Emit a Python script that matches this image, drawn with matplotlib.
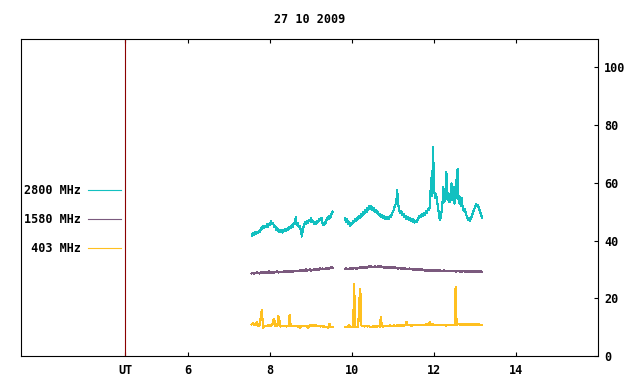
import numpy as np
import matplotlib.pyplot as plt

# ---------------- DATA ---------------- #
title = "27 10 2009"
step = 0.025          # hours between samples
start_1 = 7.55        # first block of records (UT hours)
start_2 = 9.825       # second block after the gap

x_ticks = [4.47, 6, 8, 10, 12, 14]
x_labels = ["UT", "6", "8", "10", "12", "14"]
y_ticks = [0, 20, 40, 60, 80, 100]
ut_pos = 4.47

labels = ["2800 MHz", "1580 MHz", " 403 MHz"]
colors = ["#12c0c0", "#7b5a7e", "#ffc020"]

mhz2800_a = [41.6, 42.6, 41.9, 42.9, 42.2, 43.0, 42.5, 43.4, 43.0, 44.2,
             44.0, 45.2, 44.3, 45.0, 44.6, 45.6, 44.8, 45.9, 45.4, 46.6,
             45.6, 45.9, 44.7, 44.9, 43.6, 44.2, 43.1, 43.8, 42.9, 43.6,
             42.8, 43.7, 43.2, 44.0, 43.4, 44.3, 43.8, 44.8, 44.2, 45.2,
             44.8, 46.0, 45.6, 48.0, 45.5, 46.2, 44.6, 45.1, 43.4, 41.4,
             44.0, 45.2, 46.3, 45.6, 46.8, 46.1, 47.2, 46.6, 47.8, 46.4,
             46.9, 45.6, 46.4, 45.8, 46.9, 46.3, 47.6, 47.0, 47.9, 46.2,
             45.4, 46.3, 45.8, 47.2, 48.1, 47.4, 48.6, 48.0, 49.3, 50.0]
mhz2800_b = [47.8, 46.5, 47.6, 45.8, 46.4, 44.9, 46.2, 45.6, 46.8, 46.3,
             47.5, 46.9, 48.0, 47.4, 48.5, 47.9, 49.1, 48.6, 49.8, 49.2,
             50.6, 49.9, 51.4, 50.7, 52.0, 51.0, 51.8, 50.5, 51.2, 49.8,
             50.6, 49.4, 50.1, 48.7, 49.3, 48.1, 48.8, 47.9, 48.5, 47.6,
             48.3, 47.4, 48.1, 47.5, 48.6, 48.2, 49.6, 49.8, 51.4, 52.2,
             53.0, 57.5, 52.4, 50.6, 49.4, 50.2, 48.8, 49.3, 48.1, 48.6,
             47.5, 48.2, 47.2, 47.8, 46.9, 47.5, 46.6, 47.3, 46.2, 46.9,
             46.3, 47.4, 47.9, 48.6, 48.2, 49.3, 48.6, 49.6, 49.0, 50.1,
             49.5, 51.0, 50.6, 52.0, 61.6, 55.5, 72.5, 58.0, 54.6, 56.2,
             53.5, 51.2, 48.0, 47.0, 49.5, 51.8, 58.7, 53.2, 55.0, 63.9,
             54.2, 56.5, 53.3, 55.8, 59.8, 53.9, 58.5, 52.8, 55.0, 61.6,
             64.7, 53.0, 55.2, 51.8, 54.8, 51.0, 50.2, 51.0, 49.2, 48.5,
             47.2, 47.8, 46.9, 47.6, 48.8, 49.6, 50.8, 51.5, 52.6, 51.8,
             52.4, 50.9, 49.8, 48.9, 47.8]

mhz1580_a = [28.6, 28.9, 28.5, 28.8, 28.6, 29.1, 28.7, 28.9, 28.6, 29.0,
             28.7, 29.2, 28.8, 29.0, 28.7, 29.1, 28.9, 29.3, 28.8, 29.1,
             28.9, 29.2, 28.9, 29.1, 29.0, 29.3, 28.9, 29.2, 29.0, 29.1,
             29.0, 29.3, 29.1, 29.4, 29.1, 29.3, 29.2, 29.5, 29.2, 29.4,
             29.2, 29.5, 29.3, 29.6, 29.3, 29.5, 29.4, 29.8, 29.4, 29.7,
             29.5, 29.8, 29.6, 30.0, 29.6, 29.9, 29.7, 30.1, 29.6, 29.9,
             29.7, 30.1, 29.8, 30.2, 29.8, 30.1, 29.9, 30.4, 30.0, 30.3,
             30.0, 30.3, 30.1, 30.5, 30.1, 30.4, 30.3, 30.7, 30.4, 30.6]
mhz1580_b = [30.1, 30.4, 30.0, 30.3, 30.1, 30.5, 30.2, 30.4, 30.2, 30.6,
             30.3, 30.5, 30.2, 30.6, 30.4, 30.7, 30.4, 30.8, 30.5, 30.7,
             30.5, 30.9, 30.6, 31.0, 30.7, 31.2, 30.8, 31.0, 30.7, 31.1,
             30.8, 31.0, 30.7, 31.3, 30.8, 31.1, 30.7, 30.9, 30.6, 30.9,
             30.6, 30.8, 30.5, 30.8, 30.5, 30.9, 30.5, 30.7, 30.4, 30.7,
             30.4, 30.6, 30.3, 30.6, 30.3, 30.5, 30.2, 30.5, 30.1, 30.4,
             30.1, 30.3, 30.0, 30.3, 30.0, 30.2, 29.9, 30.2, 29.9, 30.1,
             29.8, 30.1, 29.8, 30.0, 29.7, 30.0, 29.7, 29.9, 29.6, 29.9,
             29.6, 29.8, 29.5, 29.8, 29.5, 29.8, 29.5, 29.7, 29.4, 29.7,
             29.5, 29.7, 29.4, 29.7, 29.4, 29.6, 29.4, 29.7, 29.3, 29.6,
             29.4, 29.6, 29.3, 29.6, 29.3, 29.5, 29.3, 29.6, 29.2, 29.5,
             29.3, 29.5, 29.2, 29.5, 29.2, 29.5, 29.3, 29.4, 29.1, 29.4,
             29.2, 29.4, 29.1, 29.4, 29.2, 29.4, 29.1, 29.3, 29.0, 29.3,
             29.1, 29.4, 29.0, 29.3, 29.1]

mhz403_a = [11.0, 11.3, 10.9, 11.2, 10.8, 11.8, 10.6, 10.4, 10.7, 14.5,
            16.0, 9.6, 10.4, 10.3, 10.5, 10.3, 10.6, 10.4, 10.6, 10.5,
            10.7, 12.3, 12.7, 10.4, 10.5, 10.3, 13.9, 12.4, 10.2, 10.4,
            10.3, 10.5, 10.3, 10.4, 10.2, 10.4, 10.3, 14.2, 10.5, 10.3,
            10.4, 10.3, 10.5, 10.3, 10.4, 10.2, 10.4, 9.8, 10.3, 10.4,
            10.3, 10.5, 10.3, 10.4, 10.2, 9.8, 10.3, 10.6, 10.4, 10.6,
            10.5, 10.7, 10.4, 10.6, 10.5, 10.3, 10.4, 10.2, 10.4, 10.3,
            10.1, 10.3, 9.9, 10.1, 9.8, 10.0, 11.2, 10.1, 9.9, 10.0]
mhz403_b = [10.0, 10.1, 10.0, 10.2, 10.6, 10.1, 10.0, 10.1, 10.0, 25.0,
            10.1, 10.2, 10.0, 10.4, 19.0, 23.2, 10.6, 10.3, 10.5, 10.2,
            10.3, 10.4, 10.2, 10.3, 10.2, 10.1, 10.2, 10.1, 10.3, 10.2,
            10.3, 10.2, 10.4, 10.3, 10.2, 13.6, 10.3, 10.2, 10.4, 10.3,
            10.4, 10.3, 10.5, 10.4, 10.6, 10.4, 10.5, 10.4, 10.6, 10.5,
            10.4, 10.6, 10.5, 10.7, 10.5, 10.6, 10.4, 10.6, 10.5, 10.7,
            11.9, 10.6, 10.8, 10.6, 10.7, 10.5, 10.8, 10.6, 10.9, 10.7,
            10.6, 10.8, 10.7, 10.9, 10.7, 10.8, 10.6, 10.9, 10.8, 11.0,
            10.8, 11.1, 10.9, 11.8, 10.8, 11.0, 10.9, 10.7, 10.9, 10.8,
            10.7, 10.9, 10.8, 10.6, 10.8, 10.7, 10.9, 10.6, 10.8, 10.5,
            10.7, 10.6, 10.8, 10.6, 10.9, 10.7, 10.8, 10.6, 23.9, 10.8,
            10.9, 11.1, 10.8, 11.0, 10.9, 11.1, 10.8, 11.0, 10.9, 11.1,
            10.9, 11.0, 10.8, 11.1, 10.9, 11.0, 10.8, 11.0, 10.9, 11.1,
            10.9, 11.0, 10.8, 10.9, 10.8]


def join(a, b):
    # two recording blocks with a gap between them
    t = np.concatenate([start_1 + step * np.arange(len(a)), [np.nan],
                        start_2 + step * np.arange(len(b))])
    v = np.concatenate([a, [np.nan], b])
    return t, v


# ---------------- PLOT ---------------- #
plt.rcParams['font.family'] = 'DejaVu Sans Mono'
plt.rcParams['font.weight'] = 'bold'
plt.rcParams['font.size'] = 8.5

fig = plt.figure(figsize=(6.4, 3.84), dpi=100)
ax = fig.add_axes([21 / 640, 28 / 384, 577 / 640, 317.5 / 384])

ax.axvline(ut_pos, color="#8b0000", lw=0.8)

series = [(mhz2800_a, mhz2800_b), (mhz1580_a, mhz1580_b), (mhz403_a, mhz403_b)]
for (a, b), lab, col in zip(series, labels, colors):
    t, v = join(a, b)
    ax.plot(t, v, color=col, lw=0.8, label=lab, antialiased=False)

ax.set_xlim(1.92, 16)
ax.set_ylim(0, 110)

ax.set_xticks(x_ticks)
ax.set_xticklabels(x_labels)
ax.set_yticks(y_ticks)
ax.yaxis.tick_right()
ax.tick_params(axis='x', direction='in', top=True, bottom=True, length=3, pad=5.5)
ax.tick_params(axis='y', direction='in', left=False, right=True, length=3, pad=4.5)

for s in ax.spines.values():
    s.set_linewidth(0.8)
    s.set_color("black")

ax.set_title(title, pad=11, fontsize=8.5, fontweight='bold')

ax.legend(loc='center left', bbox_to_anchor=(0.005, 0.429), frameon=False,
          markerfirst=False, handlelength=2.8, handletextpad=0.6,
          labelspacing=1.35, borderpad=0, borderaxespad=0)

fig.savefig("out.png", dpi=100)
